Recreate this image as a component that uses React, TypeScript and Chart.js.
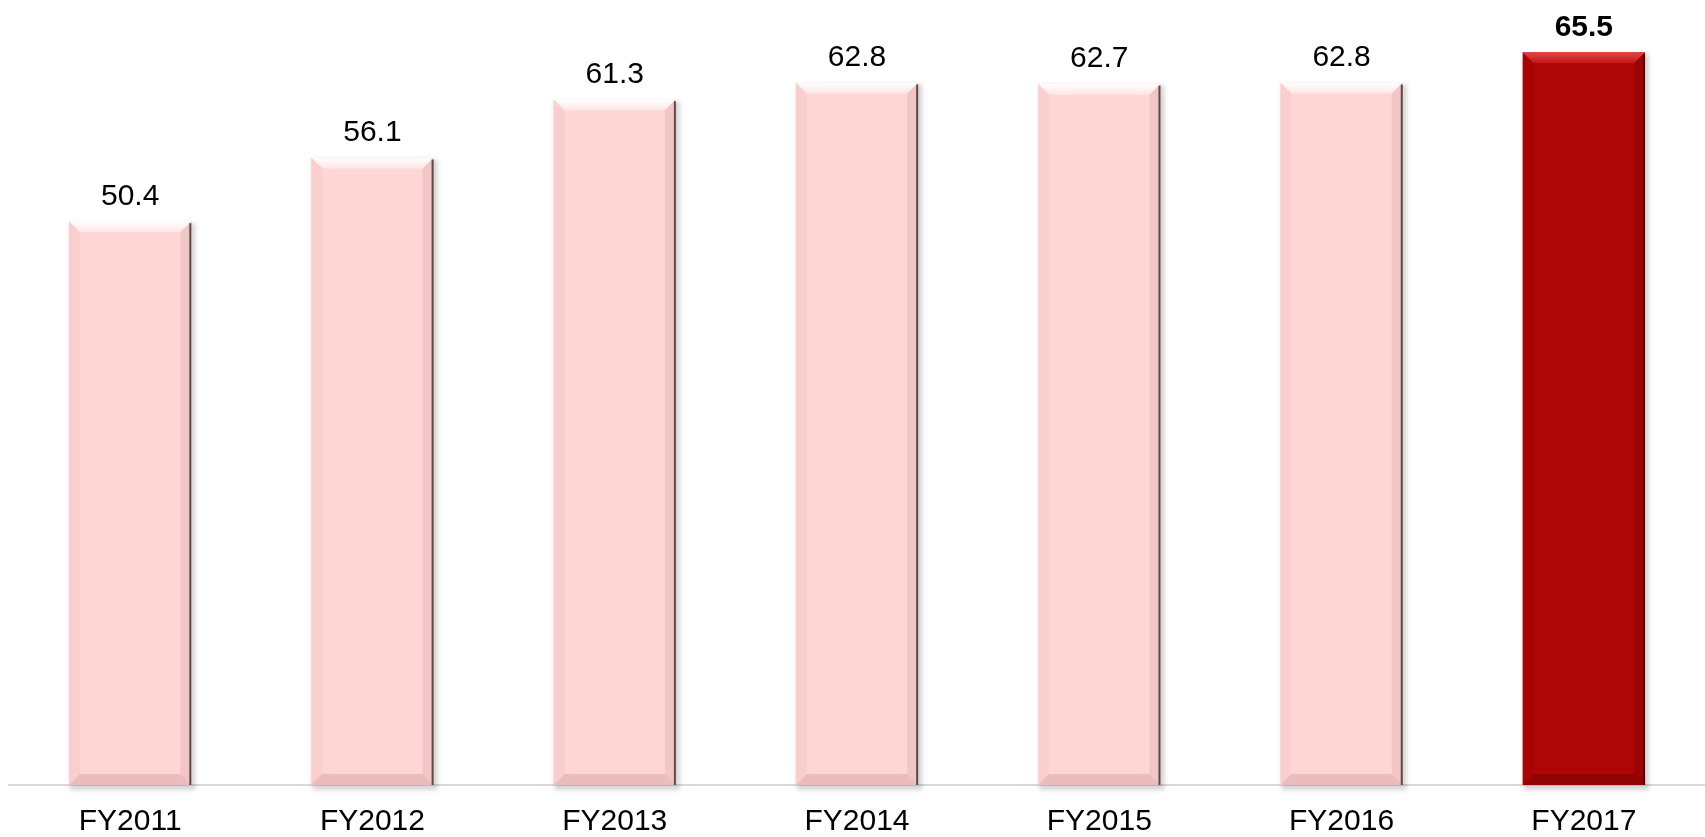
import React, { useEffect, useRef } from "react";
import { Chart, registerables } from "chart.js";

Chart.register(...registerables);

const categories = ["FY2011", "FY2012", "FY2013", "FY2014", "FY2015", "FY2016", "FY2017"];
const values = [50.4, 56.1, 61.3, 62.8, 62.7, 62.8, 65.5];
const highlightIndex = 6;

const PINK = "#FFD6D6";
const RED = "#AC0606";
const FONT = "'Liberation Sans', Arial, sans-serif";

const bevelPlugin = {
  id: "bevel",
  beforeDatasetsDraw(chart: any) {
    const ctx = chart.ctx;
    const meta = chart.getDatasetMeta(0);
    ctx.save();
    meta.data.forEach((bar: any) => {
      const { x, y, base, width } = bar.getProps(["x", "y", "base", "width"], true);
      const l = x - width / 2;
      ctx.fillStyle = "rgba(0,0,0,0.16)";
      ctx.filter = "blur(2px)";
      ctx.fillRect(l + 1, y + 2, width + 3, base - y + 3);
      ctx.filter = "none";
    });
    ctx.restore();
  },
  afterDatasetsDraw(chart: any) {
    const ctx = chart.ctx;
    const meta = chart.getDatasetMeta(0);
    ctx.save();
    meta.data.forEach((bar: any, i: number) => {
      const { x, y, base, width } = bar.getProps(["x", "y", "base", "width"], true);
      const l = x - width / 2;
      const r = x + width / 2;
      const b = 11;
      const hi = i === highlightIndex;
      // top bevel
      let g = ctx.createLinearGradient(0, y, 0, y + b);
      if (hi) {
        g.addColorStop(0, "#E44646");
        g.addColorStop(1, "#C01414");
      } else {
        g.addColorStop(0, "#FFFFFF");
        g.addColorStop(1, "#FFE6E6");
      }
      ctx.fillStyle = g;
      ctx.beginPath();
      ctx.moveTo(l, y);
      ctx.lineTo(r, y);
      ctx.lineTo(r - b, y + b);
      ctx.lineTo(l + b, y + b);
      ctx.closePath();
      ctx.fill();
      // left bevel
      ctx.fillStyle = hi ? "rgba(150,0,0,0.18)" : "rgba(225,160,160,0.15)";
      ctx.beginPath();
      ctx.moveTo(l, y);
      ctx.lineTo(l + b, y + b);
      ctx.lineTo(l + b, base - b);
      ctx.lineTo(l, base);
      ctx.closePath();
      ctx.fill();
      // right bevel
      ctx.fillStyle = hi ? "rgba(90,0,0,0.22)" : "rgba(200,140,140,0.22)";
      ctx.beginPath();
      ctx.moveTo(r, y);
      ctx.lineTo(r - b, y + b);
      ctx.lineTo(r - b, base - b);
      ctx.lineTo(r, base);
      ctx.closePath();
      ctx.fill();
      // bottom bevel
      ctx.fillStyle = hi ? "rgba(80,0,0,0.3)" : "rgba(190,130,130,0.3)";
      ctx.beginPath();
      ctx.moveTo(l, base);
      ctx.lineTo(l + b, base - b);
      ctx.lineTo(r - b, base - b);
      ctx.lineTo(r, base);
      ctx.closePath();
      ctx.fill();
      // dark right edge
      ctx.fillStyle = hi ? "#5A0000" : "#5A4A4A";
      ctx.fillRect(r - 2, y + 2, 2, base - y - 2);
    });
    ctx.restore();
  },
  afterDraw(chart: any) {
    const ctx = chart.ctx;
    const meta = chart.getDatasetMeta(0);
    ctx.save();
    ctx.textAlign = "center";
    ctx.textBaseline = "middle";
    ctx.fillStyle = "#000000";
    meta.data.forEach((bar: any, i: number) => {
      const hi = i === highlightIndex;
      ctx.font = (hi ? "bold " : "") + "30px " + FONT;
      ctx.fillText(values[i].toFixed(1), bar.x, bar.y - 25);
    });
    ctx.restore();
  },
};

export default function App() {
  const ref = useRef<HTMLCanvasElement | null>(null);
  useEffect(() => {
    if (!ref.current) return;
    const chart = new Chart(ref.current, {
      type: "bar",
      data: {
        labels: categories,
        datasets: [
          {
            data: values,
            backgroundColor: values.map((_, i) => (i === highlightIndex ? RED : PINK)),
            borderWidth: 0,
            barPercentage: 0.505,
            categoryPercentage: 1,
          },
        ],
      },
      options: {
        animation: false,
        responsive: true,
        maintainAspectRatio: false,
        layout: { padding: { left: 9, right: 0, top: 2, bottom: 0 } },
        plugins: { legend: { display: false }, tooltip: { enabled: false } },
        scales: {
          x: {
            grid: { display: false, drawTicks: false },
            border: { display: true, color: "#D9D9D9", width: 2 },
            ticks: {
              color: "#000000",
              padding: 22,
              maxRotation: 0,
              font: { family: FONT, size: 30, lineHeight: 1 },
            },
            afterFit: (scale: any) => {
              scale.height = 52;
            },
          },
          y: { display: false, min: 0, max: 70 },
        },
      },
      plugins: [bevelPlugin],
    });
    return () => chart.destroy();
  }, []);
  return (
    <div style={{ position: "absolute", left: 0, top: 0, width: 1705, height: 837, background: "#fff" }}>
      <canvas ref={ref} />
    </div>
  );
}
